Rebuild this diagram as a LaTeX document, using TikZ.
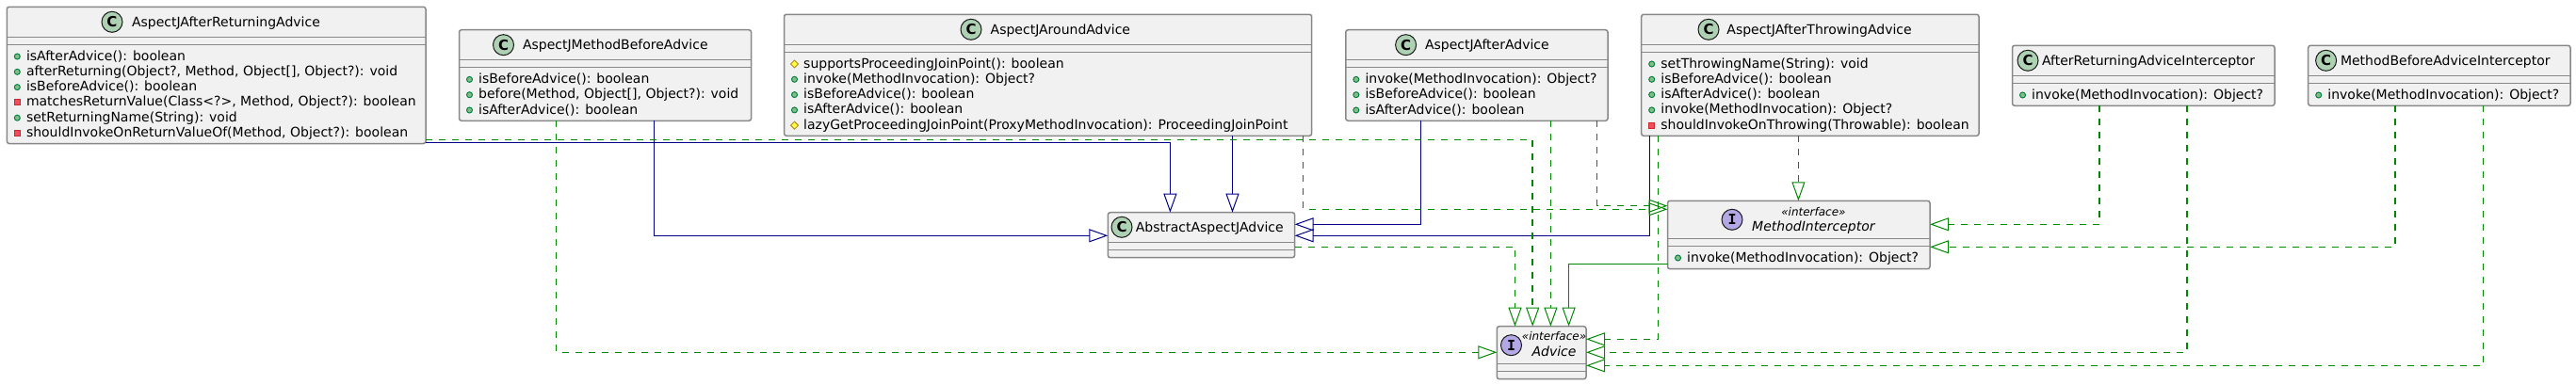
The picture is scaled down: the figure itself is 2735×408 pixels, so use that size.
\documentclass[tikz,border=0pt]{standalone}
\usepackage{fontspec}
\setmainfont{DejaVu Sans}
\newfontfamily\monofam{DejaVu Sans Mono}
\usetikzlibrary{arrows.meta}
\definecolor{boxfill}{HTML}{F1F1F1}
\definecolor{boxline}{HTML}{888888}
\definecolor{navyl}{HTML}{000088}
\definecolor{greenl}{HTML}{008800}
\definecolor{clscirc}{HTML}{ADD1B2}
\definecolor{ifccirc}{HTML}{B4A7E5}
\definecolor{pubf}{HTML}{84BE84}
\definecolor{pubd}{HTML}{038048}
\definecolor{privf}{HTML}{F24D5C}
\definecolor{privd}{HTML}{C82930}
\definecolor{protf}{HTML}{FFFF44}
\definecolor{protd}{HTML}{B38D22}
\tikzset{
  umlbox/.style={draw=boxline,fill=boxfill,line width=1.5pt,rounded corners=2.5pt,
    anchor=north west,inner sep=0pt,outer sep=0pt},
  sepline/.style={draw=boxline,line width=1.5pt},
  txt/.style={inner sep=0pt,outer sep=0pt,anchor=base west,text=black,
    font=\fontsize{14}{16}\selectfont},
  stereo/.style={inner sep=0pt,outer sep=0pt,anchor=base,text=black,
    font=\fontsize{12}{14}\selectfont\itshape},
  spot/.style={circle,draw=black!90,line width=1pt,minimum size=22pt,inner sep=0pt,outer sep=0pt},
  hollow/.style={-{Triangle[open,length=20pt,width=14pt,line width=1pt]}},
  inh/.style={draw=navyl,line width=1.5pt,hollow},
  impl/.style={draw=greenl,line width=1.5pt,dash pattern=on 7pt off 7pt,hollow},
  ext/.style={draw=greenl,line width=1.5pt,hollow},
}
% id, x, y, w, h, sep1, sep2
\newcommand\ubox[7]{%
  \node[umlbox,minimum width=#4pt,minimum height=#5pt] (#1) at (#2,#3) {};
  \draw[sepline] ([yshift=-#6pt]#1.north west) -- ([yshift=-#6pt]#1.north east);
  \draw[sepline] ([yshift=-#7pt]#1.north west) -- ([yshift=-#7pt]#1.north east);
}
% id, circle dx, circle dy, colour, font+letter
\newcommand\uspot[5]{%
  \node[spot,fill=#4] (#1-spot) at ([xshift=#2pt,yshift=-#3pt]#1.north west)
    {\fontsize{15}{15}\selectfont #5};
}
% id, text dx, title
\newcommand\utitle[3]{%
  \node[txt] (#1-title) at ([xshift=#2pt,yshift=-21pt]#1.north west) {#3};
}
\def\sepo{56.7}
% id, row, kind (p,v,d), text
\newcommand\memb[4]{%
  \pgfmathsetmacro\mby{\sepo+16.3*#2}%
  \node[txt] (#1-m#2) at ([xshift=20.7pt,yshift=-\mby pt]#1.north west) {#4};
  \coordinate (#1-i#2) at ([xshift=11pt,yshift=-\mby pt+4pt]#1.north west);
  \if#3p\draw[draw=pubd,fill=pubf,line width=1pt] (#1-i#2) circle (3pt);\fi
  \if#3v\draw[draw=privd,fill=privf,line width=1pt]
     ([xshift=-3pt,yshift=-3pt]#1-i#2) rectangle ([xshift=3pt,yshift=3pt]#1-i#2);\fi
  \if#3d\draw[draw=protd,fill=protf,line width=1pt]
     ([xshift=-4pt]#1-i#2) -- ([yshift=4pt]#1-i#2) -- ([xshift=4pt]#1-i#2) -- ([yshift=-4pt]#1-i#2) -- cycle;\fi
}
\newcommand\letC{\bfseries C}
\newcommand\letI{\monofam\bfseries I}
\begin{document}
\begin{tikzpicture}[x=1pt,y=-1pt]
\useasboundingbox (0,0) rectangle (2735,408);

% AspectJAfterReturningAdvice
\ubox{ar}{7.3}{7.3}{444.7}{145.2}{32}{40}
\uspot{ar}{111.7}{16}{clscirc}{\letC}
\utitle{ar}{132.7}{AspectJAfterReturningAdvice}
\memb{ar}{0}{p}{isAfterAdvice(): boolean}
\memb{ar}{1}{p}{afterReturning(Object?, Method, Object[], Object?): void}
\memb{ar}{2}{p}{isBeforeAdvice(): boolean}
\memb{ar}{3}{v}{matchesReturnValue(Class<?>, Method, Object?): boolean}
\memb{ar}{4}{p}{setReturningName(String): void}
\memb{ar}{5}{v}{shouldInvokeOnReturnValueOf(Method, Object?): boolean}

% AspectJMethodBeforeAdvice
\ubox{mb}{487.5}{31.7}{310.1}{96.6}{32}{40}
\uspot{mb}{47}{16}{clscirc}{\letC}
\utitle{mb}{67.5}{AspectJMethodBeforeAdvice}
\memb{mb}{0}{p}{isBeforeAdvice(): boolean}
\memb{mb}{1}{p}{before(Method, Object[], Object?): void}
\memb{mb}{2}{p}{isAfterAdvice(): boolean}

% AspectJAroundAdvice
\ubox{ja}{832.5}{15.3}{560.2}{129}{32}{40}
\uspot{ja}{198.5}{16}{clscirc}{\letC}
\utitle{ja}{219.2}{AspectJAroundAdvice}
\memb{ja}{0}{d}{supportsProceedingJoinPoint(): boolean}
\memb{ja}{1}{p}{invoke(MethodInvocation): Object?}
\memb{ja}{2}{p}{isBeforeAdvice(): boolean}
\memb{ja}{3}{p}{isAfterAdvice(): boolean}
\memb{ja}{4}{d}{lazyGetProceedingJoinPoint(ProxyMethodInvocation): ProceedingJoinPoint}

% AspectJAfterAdvice
\ubox{aa}{1428.8}{31.7}{278.2}{96.6}{32}{40}
\uspot{aa}{63.8}{16}{clscirc}{\letC}
\utitle{aa}{84.2}{AspectJAfterAdvice}
\memb{aa}{0}{p}{invoke(MethodInvocation): Object?}
\memb{aa}{1}{p}{isBeforeAdvice(): boolean}
\memb{aa}{2}{p}{isAfterAdvice(): boolean}

% AspectJAfterThrowingAdvice
\ubox{at}{1742.7}{15.3}{358.3}{129}{32}{40}
\uspot{at}{71.3}{16}{clscirc}{\letC}
\utitle{at}{90.7}{AspectJAfterThrowingAdvice}
\memb{at}{0}{p}{setThrowingName(String): void}
\memb{at}{1}{p}{isBeforeAdvice(): boolean}
\memb{at}{2}{p}{isAfterAdvice(): boolean}
\memb{at}{3}{p}{invoke(MethodInvocation): Object?}
\memb{at}{4}{v}{shouldInvokeOnThrowing(Throwable): boolean}

% AfterReturningAdviceInterceptor
\ubox{ri}{2136.5}{48.3}{278.5}{64}{32}{40}
\uspot{ri}{16.5}{16}{clscirc}{\letC}
\utitle{ri}{31.5}{AfterReturningAdviceInterceptor}
\memb{ri}{0}{p}{invoke(MethodInvocation): Object?}

% MethodBeforeAdviceInterceptor
\ubox{bi}{2450.7}{48.3}{278.3}{64}{32}{40}
\uspot{bi}{18.9}{16}{clscirc}{\letC}
\utitle{bi}{34.3}{MethodBeforeAdviceInterceptor}
\memb{bi}{0}{p}{invoke(MethodInvocation): Object?}

% AbstractAspectJAdvice
\ubox{ab}{1176.3}{225.7}{198.3}{48}{31.6}{39.6}
\uspot{ab}{14.7}{15.6}{clscirc}{\letC}
\utitle{ab}{29.5}{AbstractAspectJAdvice}

% MethodInterceptor
\ubox{mi}{1770.5}{213.3}{278.5}{72.4}{40}{48}
\uspot{mi}{68.5}{20}{ifccirc}{\letI}
\node[stereo] (mi-st) at ([xshift=154.9pt,yshift=-16pt]mi.north west) {«interface»};
\node[txt,anchor=base,font=\fontsize{14}{16}\selectfont\itshape] (mi-title) at ([xshift=154.9pt,yshift=-32pt]mi.north west) {MethodInterceptor};
\def\sepo{64.7}
\memb{mi}{0}{p}{invoke(MethodInvocation): Object?}

% Advice
\ubox{ad}{1589.3}{346.7}{94.7}{56}{39.6}{47.6}
\uspot{ad}{15.2}{20}{ifccirc}{\letI}
\node[stereo] (ad-st) at ([xshift=60.7pt,yshift=-15pt]ad.north west) {«interface»};
\node[txt,anchor=base,font=\fontsize{14}{16}\selectfont\itshape] (ad-title) at ([xshift=60.7pt,yshift=-31.6pt]ad.north west) {Advice};

% Generalisation (navy)
\draw[inh] ([yshift=1.2pt]ar.south east) -| ([xshift=66.1pt]ab.north west);
\draw[inh] ([xshift=207pt]mb.south west) |- ([yshift=-24.6pt]ab.north west);
\draw[inh] ([xshift=476pt]ja.south west) -- ([xshift=132.2pt]ab.north west);
\draw[inh] ([xshift=79.7pt]aa.south west) |- ([yshift=-12.6pt]ab.north east);
\draw[inh] ([xshift=8.6pt]at.south west) |- ([yshift=-24.6pt]ab.north east);

% Realisation (green dashed)
\draw[impl] ([yshift=4.2pt]ar.south east) -| ([xshift=37.9pt]ad.north west);
\draw[impl] ([xshift=103pt]mb.south west) |- ([yshift=-27.6pt]ad.north west);
\draw[impl] ([xshift=551pt]ja.south west) |- ([yshift=-9pt]mi.north west);
\draw[impl] ([xshift=217.6pt]aa.south west) -- ([xshift=57.1pt]ad.north west);
\draw[impl] ([xshift=266.7pt]aa.south west) |- ([yshift=-5.4pt]mi.north west);
\draw[impl] ([xshift=17.6pt]at.south west) |- ([yshift=-13.6pt]ad.north east);
\draw[impl] ([xshift=166.7pt]at.south west) -- ([xshift=138.9pt]mi.north west);
\draw[impl] ([yshift=11.4pt]ab.south east) -| ([xshift=19.2pt]ad.north west);
\draw[impl] ([xshift=92.6pt]ri.south west) |- ([yshift=-25pt]mi.north east);
\draw[impl] ([xshift=185.5pt]ri.south west) |- ([yshift=-27.6pt]ad.north east);
\draw[impl] ([xshift=92.3pt]bi.south west) |- ([yshift=-49pt]mi.north east);
\draw[impl] ([xshift=185.8pt]bi.south west) |- ([yshift=-41.6pt]ad.north east);

% Interface extension (green solid)
\draw[ext] ([yshift=5.4pt]mi.south west) -| ([xshift=76.3pt]ad.north west);
\end{tikzpicture}
\end{document}
